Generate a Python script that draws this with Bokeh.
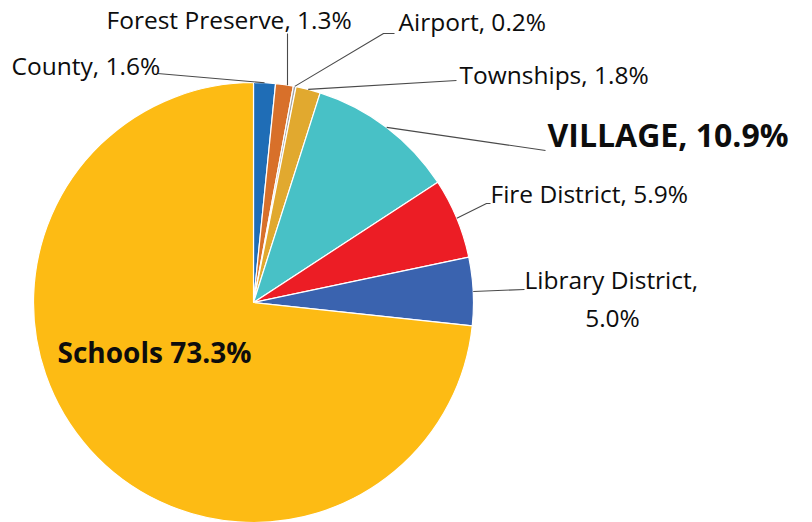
import math
from bokeh.plotting import figure
from bokeh.models import Range1d, ColumnDataSource
from bokeh.core.properties import value
from bokeh.embed import file_html
from bokeh.resources import INLINE

categories = ["County", "Forest Preserve", "Airport", "Townships", "VILLAGE",
              "Fire District", "Library District", "Schools"]
shares = [1.6, 1.3, 0.2, 1.8, 10.9, 5.9, 5.0, 73.3]
colors = ["#1F6DB6", "#D8702A", "#A5A5A5", "#E1A92F", "#48C1C6",
          "#EC1D25", "#3A63AF", "#FDBB14"]

W, H = 812, 522
CX, CY, R = 253, H - 302, 220
FONT = "Open Sans"

p = figure(width=W, height=H, x_range=Range1d(0, W), y_range=Range1d(0, H),
           output_backend="svg", toolbar_location=None, min_border=0)
p.axis.visible = False
p.grid.visible = False
p.outline_line_color = None
p.background_fill_color = "white"

total = sum(shares)
starts, ends, mids = [], [], []
acc = 0.0
for s in shares:
    a0 = math.pi / 2 - 2 * math.pi * acc / total
    acc += s
    a1 = math.pi / 2 - 2 * math.pi * acc / total
    starts.append(a0)
    ends.append(a1)
    mids.append((a0 + a1) / 2)

src = ColumnDataSource(dict(x=[CX] * len(shares), y=[CY] * len(shares),
                            start=starts, end=ends, color=colors))
p.wedge(x="x", y="y", radius=R, radius_units="screen", start_angle="start",
        end_angle="end", direction="clock", fill_color="color",
        line_color="white", line_width=1.2, source=src)

# leader lines: (label anchor points in pixel layout)
leader_ends = {
    0: [(157, 73)],
    1: [(287, 33)],
    2: [(383, 33), (394, 33)],
    3: [(456, 80)],
    4: [(545, 150)],
    5: [(486, 203), (490, 203)],
    6: [(524, 289)],
}
for i, pts in leader_ends.items():
    sx = CX + R * math.cos(mids[i])
    sy = CY + R * math.sin(mids[i])
    if i == 1:
        sx = pts[0][0]
        sy = CY + math.sqrt(R * R - (sx - CX) ** 2)
    xs = [sx] + [q[0] for q in pts]
    ys = [sy] + [H - q[1] for q in pts]
    p.line(xs, ys, line_color="#4a4a4a", line_width=1.1)

def label(txt, x, y, size, bold=False, align="left"):
    p.text(x=[x], y=[H - y], text=[txt], text_font=value(FONT),
           text_font_size=f"{size}px", text_font_style="bold" if bold else "normal",
           text_align=align, text_baseline="middle", text_color="#0d0d0d")

fmt = lambda i: f"{categories[i]}, {shares[i]:.1f}%"
label(fmt(0), 11, 65, 24.5)
label(fmt(1), 106, 19, 24.5)
label(fmt(2), 398, 21, 24.5)
label(fmt(3), 459, 74, 24.5)
label(fmt(4), 547, 134, 32, bold=True)
label(fmt(5), 490, 193, 24.5)
label(f"{categories[6]},", 524, 279, 24.5)
label(f"{shares[6]:.1f}%", 612, 317, 24.5, align="center")
label(f"{categories[7]} {shares[7]:.1f}%", 57, 351, 28, bold=True)

open("out.html", "w").write(file_html(p, INLINE))
